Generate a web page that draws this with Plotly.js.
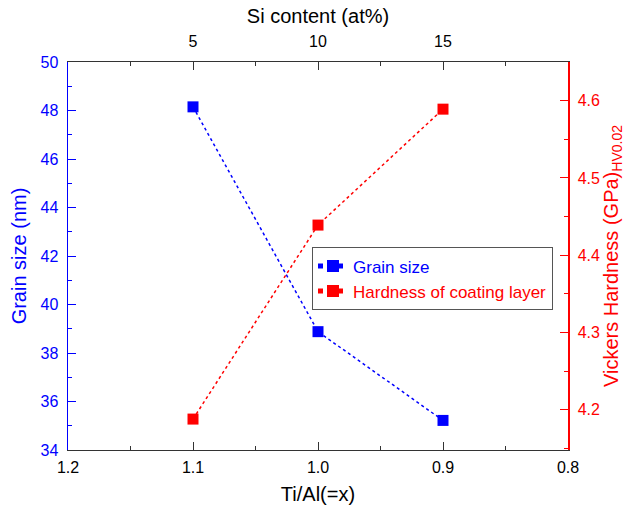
<!DOCTYPE html>
<html>
<head>
<meta charset="utf-8">
<script src="https://cdn.plot.ly/plotly-3.0.1.min.js"></script>
<style>html,body{margin:0;padding:0;background:#fff;}#chart{width:631px;height:505px;}</style>
</head>
<body>
<div id="chart"></div>
<script>
// Data
const tiAlRatio = [1.1, 1.0, 0.9];
const siContent = [5, 10, 15];
const grainSize = [48.15, 38.88, 35.22];
const hardness = [4.188, 4.439, 4.589];
const bottomTicks = [1.2, 1.1, 1.0, 0.9, 0.8];
const bottomTickText = ['1.2', '1.1', '1.0', '0.9', '0.8'];
const topTicks = [5, 10, 15];
const leftTicks = [34, 36, 38, 40, 42, 44, 46, 48, 50];
const rightTicks = [4.2, 4.3, 4.4, 4.5, 4.6];

const BLUE = '#0000ff';
const RED = '#ff0000';
const FONT = 'Liberation Sans, Arial, sans-serif';

const traces = [
  {
    x: tiAlRatio, y: grainSize, xaxis: 'x', yaxis: 'y',
    mode: 'lines+markers', type: 'scatter',
    name: '<span style="color:#0000ff">Grain size</span>',
    line: {color: BLUE, dash: 'dot', width: 1.5},
    marker: {symbol: 'square', size: 11, color: BLUE}
  },
  {
    x: tiAlRatio, y: hardness, xaxis: 'x', yaxis: 'y2',
    mode: 'lines+markers', type: 'scatter',
    name: '<span style="color:#ff0000">Hardness of coating layer</span>',
    line: {color: RED, dash: 'dot', width: 1.5},
    marker: {symbol: 'square', size: 11, color: RED}
  },
  {
    x: siContent, y: grainSize, xaxis: 'x2', yaxis: 'y',
    mode: 'markers', type: 'scatter', showlegend: false,
    hoverinfo: 'skip', marker: {opacity: 0}
  }
];

const layout = {
  width: 631, height: 505,
  margin: {l: 68, r: 63, t: 62, b: 55},
  paper_bgcolor: '#fff', plot_bgcolor: '#fff',
  font: {family: FONT, size: 16, color: '#000'},
  showlegend: true,
  legend: {
    x: 0.488, y: 0.522, xanchor: 'left', yanchor: 'top',
    bgcolor: '#fff', bordercolor: '#555', borderwidth: 1,
    font: {family: FONT, size: 17},
    tracegroupgap: 0, itemsizing: 'constant'
  },
  xaxis: {
    range: [1.2, 0.8], tickvals: bottomTicks, ticktext: bottomTickText,
    ticks: 'inside', ticklen: 8, tickwidth: 1, tickcolor: '#333',
    minor: {ticks: 'inside', ticklen: 4, dtick: 0.05, tick0: 0.8, tickcolor: '#333', tickwidth: 1},
    showline: true, linecolor: '#333', linewidth: 1.2,
    showgrid: false, zeroline: false, ticklabelstandoff: 3,
    tickfont: {size: 16, color: '#000'},
    title: {text: 'Ti/Al(=x)', font: {size: 20, color: '#000'}, standoff: 13}
  },
  xaxis2: {
    overlaying: 'x', side: 'top', anchor: 'y',
    range: [0, 20], tickvals: topTicks,
    ticks: 'inside', ticklen: 8, tickwidth: 1, tickcolor: '#333',
    minor: {ticks: 'inside', ticklen: 4, dtick: 2.5, tick0: 0, tickcolor: '#333', tickwidth: 1},
    showline: true, linecolor: '#333', linewidth: 1.2,
    showgrid: false, zeroline: false, ticklabelstandoff: 7,
    tickfont: {size: 16, color: '#000'},
    title: {text: 'Si content (at%)', font: {size: 20, color: '#000'}, standoff: 4}
  },
  yaxis: {
    range: [34, 50], tickvals: leftTicks,
    ticks: 'inside', ticklen: 8, tickwidth: 1, tickcolor: BLUE,
    minor: {ticks: 'inside', ticklen: 4, dtick: 1, tick0: 34, tickcolor: BLUE, tickwidth: 1},
    showline: true, linecolor: BLUE, linewidth: 1.5,
    showgrid: false, zeroline: false, ticklabelstandoff: 5,
    tickfont: {size: 16, color: BLUE},
    title: {text: 'Grain size (nm)', font: {size: 20, color: BLUE}, standoff: 8}
  },
  yaxis2: {
    overlaying: 'y', side: 'right', anchor: 'x',
    range: [4.148, 4.650], tickvals: rightTicks,
    ticks: 'inside', ticklen: 8, tickwidth: 1, tickcolor: RED,
    minor: {ticks: 'inside', ticklen: 4, dtick: 0.05, tick0: 4.15, tickcolor: RED, tickwidth: 1},
    showline: true, linecolor: RED, linewidth: 1.5,
    showgrid: false, zeroline: false, ticklabelstandoff: 5,
    tickfont: {size: 16, color: RED},
    title: {text: 'Vickers Hardness (GPa)<sub>HV0.02</sub>', font: {size: 20, color: RED}, standoff: 0}
  }
};

Plotly.newPlot('chart', traces, layout, {displayModeBar: false, staticPlot: true});
</script>
</body>
</html>
